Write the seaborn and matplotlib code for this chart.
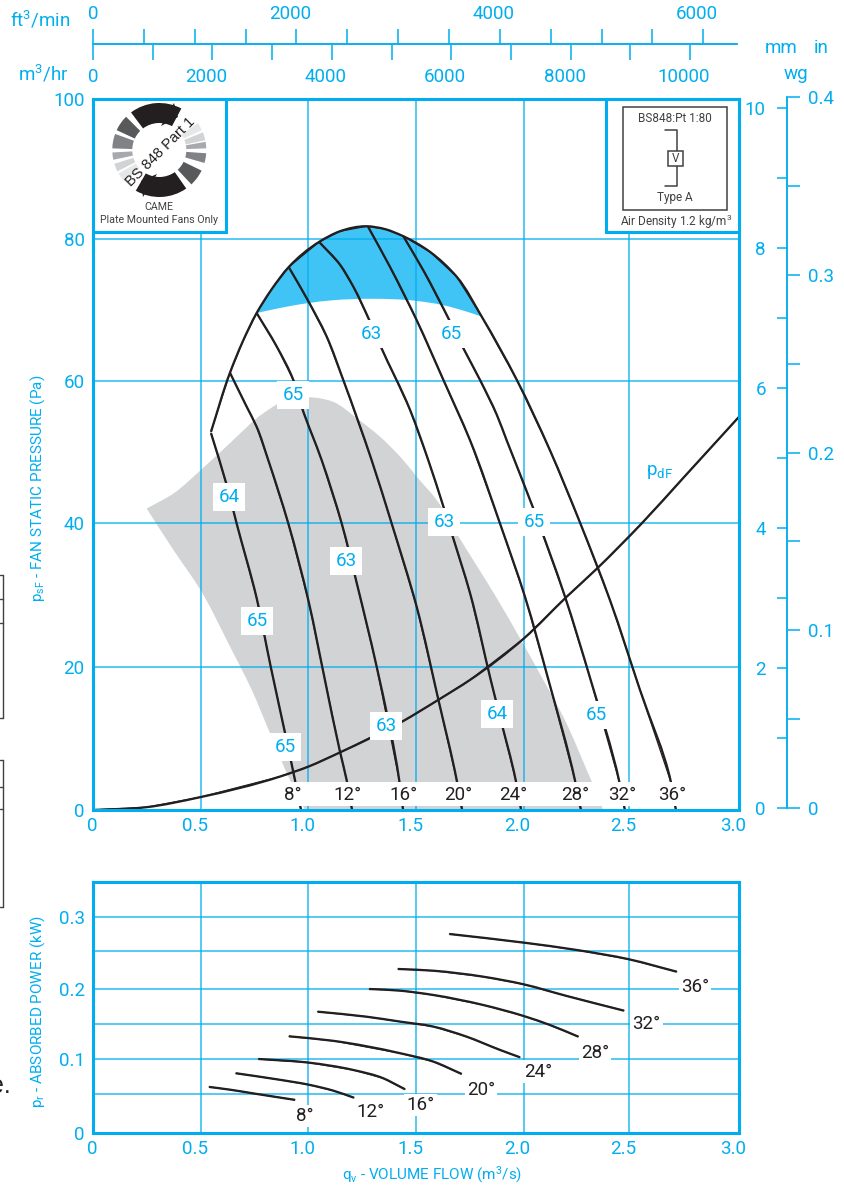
import numpy as np
import pandas as pd
import matplotlib
matplotlib.use('Agg')
import matplotlib.pyplot as plt
import seaborn as sns
from matplotlib import font_manager
from matplotlib.patches import Wedge, Polygon, Rectangle, PathPatch
from matplotlib.path import Path
from matplotlib.transforms import ScaledTranslation

# fan pressure chart, volume flow in m3/s
stall_x = [0.548, 0.636, 0.697, 0.760, 0.831, 0.910, 1.050, 1.147, 1.271, 1.356, 1.441, 1.565, 1.689, 1.805]
stall_y = [53.2, 61.5, 66.0, 69.9, 73.3, 76.4, 79.9, 81.4, 82.1, 81.7, 80.7, 78.5, 75.0, 69.4]

blue_low_x = [0.760, 0.884, 1.000, 1.116, 1.286, 1.503, 1.627, 1.735, 1.805]
blue_low_y = [69.9, 70.7, 71.3, 71.7, 71.9, 71.6, 71.0, 70.1, 69.4]

gray_top_x = [0.249, 0.373, 0.500, 0.636, 0.791, 0.900, 1.031, 1.116, 1.225, 1.333, 1.441, 1.503, 1.596, 1.689, 1.875,
              2.091, 2.184, 2.316]
gray_top_y = [42.4, 44.5, 47.8, 51.6, 55.8, 57.7, 58.0, 57.4, 55.1, 52.5, 49.2, 46.9, 43.6, 38.9, 29.8,
              18.3, 13.1, 4.0]
gray_low_x = [0.985, 0.915, 0.822, 0.737, 0.636, 0.500, 0.373, 0.249]
gray_low_y = [0.0, 4.2, 10.8, 16.9, 23.0, 30.9, 36.6, 42.4]
gray_end_x = [2.370]
gray_end_y = [0.0]

blade_8_x = [0.548, 0.621, 0.667, 0.760, 0.825, 0.892, 0.938, 0.966]
blade_8_y = [53.0, 45.7, 40.3, 29.8, 20.2, 10.8, 4.2, 0.0]
blade_12_x = [0.636, 0.714, 0.760, 0.814, 0.907, 1.000, 1.077, 1.147, 1.178, 1.203]
blade_12_y = [61.5, 56.7, 53.9, 49.2, 40.3, 29.5, 18.3, 8.2, 4.2, 0.0]
blade_16_x = [0.760, 0.853, 0.930, 0.969, 1.062, 1.155, 1.225, 1.317, 1.422, 1.440]
blade_16_y = [69.9, 65.2, 60.5, 56.7, 49.2, 40.3, 31.9, 20.2, 4.2, 0.0]
blade_20_x = [0.910, 0.992, 1.085, 1.162, 1.294, 1.387, 1.503, 1.604, 1.689, 1.714]
blade_20_y = [76.3, 72.0, 66.6, 60.5, 49.2, 40.3, 28.6, 15.5, 4.2, 0.0]
blade_24_x = [1.050, 1.147, 1.209, 1.286, 1.333, 1.472, 1.557, 1.627, 1.666, 1.751, 1.847, 1.890, 1.963, 1.988]
blade_24_y = [79.9, 76.7, 73.6, 68.7, 65.4, 56.3, 49.2, 42.7, 38.9, 30.5, 18.3, 13.1, 4.2, 0.0]
blade_28_x = [1.278, 1.379, 1.503, 1.627, 1.751, 1.890, 2.006, 2.115, 2.238, 2.266]
blade_28_y = [82.0, 76.4, 68.9, 60.5, 52.0, 40.3, 30.0, 18.3, 4.2, 0.0]
blade_32_x = [1.441, 1.534, 1.658, 1.712, 1.797, 1.875, 1.921, 2.045, 2.192, 2.311, 2.444, 2.470]
blade_32_y = [80.7, 75.9, 68.7, 65.4, 60.5, 55.6, 52.0, 42.4, 30.0, 18.3, 4.0, 0.0]
blade_36_x = [1.805, 1.968, 2.122, 2.262, 2.401, 2.540, 2.684, 2.707]
blade_36_y = [69.4, 60.5, 50.6, 40.4, 29.5, 16.9, 3.9, 0.0]

pdf_x = [0.0, 0.25, 0.497, 0.868, 1.000, 1.147, 1.434, 1.604, 1.751, 2.000, 2.200, 2.342, 2.548, 2.741, 3.000]
pdf_y = [0.0, 0.4, 1.8, 4.7, 6.1, 8.1, 12.4, 15.5, 18.3, 24.1, 30.0, 34.0, 40.3, 46.7, 55.3]

eff_text = ['64', '65', '65', '63', '63', '65', '63', '65', '63', '65', '64', '65']
eff_x = [0.632, 0.762, 0.892, 1.175, 1.361, 0.929, 1.291, 1.663, 1.630, 2.048, 1.876, 2.336]
eff_y = [44.0, 26.6, 8.9, 35.0, 11.8, 58.4, 66.9, 66.9, 40.5, 40.5, 13.5, 13.4]

angle_text = ['8°', '12°', '16°', '20°', '24°', '28°', '32°', '36°']
angle_top_x = [0.929, 1.184, 1.440, 1.695, 1.951, 2.238, 2.457, 2.689]
angle_top_y = [2.1] * 8

# absorbed power chart
pow_8_x = [0.539, 0.640, 0.744, 0.938]
pow_8_y = [0.064, 0.060, 0.055, 0.046]
pow_12_x = [0.663, 0.853, 1.008, 1.116, 1.212]
pow_12_y = [0.083, 0.0746, 0.0667, 0.0588, 0.049]
pow_16_x = [0.768, 1.000, 1.209, 1.348, 1.426, 1.449]
pow_16_y = [0.1028, 0.0978, 0.0875, 0.076, 0.0643, 0.0607]
pow_20_x = [0.910, 1.116, 1.426, 1.580, 1.712]
pow_20_y = [0.1343, 0.128, 0.1108, 0.0992, 0.082]
pow_24_x = [1.043, 1.271, 1.426, 1.580, 1.735, 1.890, 1.983]
pow_24_y = [0.1685, 0.1615, 0.1547, 0.1478, 0.1338, 0.1154, 0.1051]
pow_28_x = [1.283, 1.426, 1.580, 1.812, 2.000, 2.122, 2.254]
pow_28_y = [0.200, 0.1977, 0.1917, 0.1778, 0.1625, 0.150, 0.1338]
pow_32_x = [1.416, 1.580, 1.812, 2.000, 2.200, 2.466]
pow_32_y = [0.2278, 0.2254, 0.2171, 0.2065, 0.1903, 0.1699]
pow_36_x = [1.655, 2.003, 2.246, 2.490, 2.711]
pow_36_y = [0.2764, 0.2643, 0.2542, 0.2412, 0.224]

angle_low_x = [0.984, 1.291, 1.522, 1.802, 2.067, 2.331, 2.571, 2.796]
angle_low_y = [0.0236, 0.0292, 0.0389, 0.0597, 0.0851, 0.1106, 0.152, 0.2032]

# ticks
flow_grid = [0, 0.5, 1.0, 1.5, 2.0, 2.49, 3.0]
flow_labels = ['0', '0.5', '1.0', '1.5', '2.0', '2.5', '3.0']
press_grid = [0, 20.1, 40.4, 60.3, 80.3, 100]
press_labels = ['0', '20', '40', '60', '80', '100']
power_grid = [0, 0.054, 0.103, 0.151, 0.2, 0.253, 0.3]
power_labels = ['0', '', '0.1', '', '0.2', '', '0.3']
ft_ticks = [0, 500, 1000, 1500, 2000, 2500, 3000, 3500, 4000, 4500, 5000, 5500, 6000]
ft_labels = ['0', '', '', '', '2000', '', '', '', '4000', '', '', '', '6000']
hr_ticks = [0, 1000, 2000, 3000, 4000, 5000, 6000, 7000, 8000, 9000, 10000]
hr_labels = ['0', '', '2000', '', '4000', '', '6000', '', '8000', '', '10000']
mm_ticks = [0, 2, 4, 6, 8, 10]
mm_minor = [1, 3, 5, 7, 9]
in_ticks = [0, 0.05, 0.1, 0.15, 0.2, 0.25, 0.3, 0.35, 0.4]
in_labels = ['0', '', '0.1', '', '0.2', '', '0.3', '', '0.4']

CYAN = '#00AEEF'
BLUE = '#40C4F5'
GRAY = '#D1D3D4'
BLACK = '#231F20'
DARK = '#414042'
W, H = 844, 1188
DPI = 100

sns.set_theme(style='white')
available = {f.name for f in font_manager.fontManager.ttflist}
NARROW = 'Liberation Sans Narrow' if 'Liberation Sans Narrow' in available else 'Roboto'
plt.rcParams['font.family'] = ['Roboto', 'DejaVu Sans']
plt.rcParams['mathtext.default'] = 'regular'
TICK_SIZE = 13.5


def rect(left, top, right, bottom):
    return [left / W, 1 - bottom / H, (right - left) / W, (bottom - top) / H]


def shift(labels, dx, dy=0):
    off = ScaledTranslation(dx / DPI, dy / DPI, fig.dpi_scale_trans)
    for lab in labels:
        lab.set_transform(lab.get_transform() + off)


def bezier(ax, xs, ys):
    # smooth curve through the read points, tangents from screen distances
    pts = np.column_stack([xs, ys]).astype(float)
    scr = ax.transData.transform(pts)
    h = np.maximum(np.hypot(*np.diff(scr, axis=0).T), 1e-6)
    d = np.diff(pts, axis=0) / h[:, None]
    m = np.zeros_like(pts)
    m[0], m[-1] = d[0], d[-1]
    for i in range(1, len(pts) - 1):
        m[i] = (d[i - 1] * h[i] + d[i] * h[i - 1]) / (h[i - 1] + h[i])
    verts = []
    for i in range(len(h)):
        verts += [pts[i] + m[i] * h[i] / 3, pts[i + 1] - m[i + 1] * h[i] / 3, pts[i + 1]]
    return pts[0], verts


def curve(ax, xs, ys):
    sns.lineplot(x=xs, y=ys, ax=ax, color=BLACK, lw=0.9, sort=False, estimator=None, legend=False)
    start, verts = bezier(ax, xs, ys)
    path = Path([start] + verts, [Path.MOVETO] + [Path.CURVE4] * len(verts))
    ax.add_patch(PathPatch(path, fc='none', ec=BLACK, lw=1.65, capstyle='butt', zorder=2))


def smooth_fill(ax, parts, **kw):
    # parts are (xs, ys) pieces joined end to end, straight between pieces
    verts, codes = [], []
    for xs, ys in parts:
        if len(xs) == 1:
            verts.append((xs[0], ys[0]))
            codes.append(Path.LINETO)
            continue
        start, v = bezier(ax, xs, ys)
        verts.append(start)
        codes.append(Path.LINETO if codes else Path.MOVETO)
        verts += v
        codes += [Path.CURVE4] * len(v)
    verts.append(verts[0])
    codes.append(Path.CLOSEPOLY)
    ax.add_patch(PathPatch(Path(verts, codes), lw=0, **kw))


def style_panel(ax, ylim, yticks, ylabels):
    ax.set_xticks(flow_grid)
    ax.set_xticklabels(flow_labels)
    ax.set_yticks(yticks)
    ax.set_yticklabels(ylabels)
    ax.set_axisbelow('line')
    ax.grid(True, color=CYAN, lw=1.1, alpha=0.85)
    ax.tick_params(length=0, colors=CYAN, labelsize=TICK_SIZE, pad=6)
    ax.tick_params(axis='x', pad=5)
    ax.set_xlim(0, 3.0)
    ax.set_ylim(*ylim)
    ax.set_xlabel('')
    ax.set_ylabel('')
    for sp in ax.spines.values():
        sp.set_color(CYAN)
        sp.set_linewidth(2.2)
        sp.set_visible(True)
    shift(ax.get_xticklabels()[1:], -6)
    shift(ax.get_xticklabels()[:1], -1)


fig = plt.figure(figsize=(W / DPI, H / DPI), dpi=DPI, facecolor='white')

# main pressure panel
ax = fig.add_axes(rect(93, 99, 739, 810))
style_panel(ax, (0, 100), press_grid, press_labels)
smooth_fill(ax, [(gray_top_x, gray_top_y), (gray_end_x, gray_end_y), (gray_low_x, gray_low_y)], fc=GRAY, zorder=1)
top_idx = [i for i, v in enumerate(stall_x) if v >= 0.76]
smooth_fill(ax, [([stall_x[i] for i in top_idx], [stall_y[i] for i in top_idx]),
                 (blue_low_x[::-1], blue_low_y[::-1])], fc=BLUE, zorder=1.1)
for xs, ys in [(stall_x + blade_36_x[1:], stall_y + blade_36_y[1:]), (blade_8_x, blade_8_y),
               (blade_12_x, blade_12_y), (blade_16_x, blade_16_y), (blade_20_x, blade_20_y),
               (blade_24_x, blade_24_y), (blade_28_x, blade_28_y), (blade_32_x, blade_32_y),
               (pdf_x, pdf_y)]:
    curve(ax, xs, ys)
ax.set_xlim(0, 3.0)
ax.set_ylim(0, 100)
ax.add_patch(Rectangle((0.89, 0.55), 1.86, 3.4, fc='white', ec='none', zorder=3))
for t, x, y in zip(eff_text, eff_x, eff_y):
    ax.text(x, y, t, color=CYAN, fontsize=TICK_SIZE, ha='center', va='center', zorder=4,
            bbox=dict(boxstyle='square,pad=0.27', fc='white', ec='none'))
for t, x, y in zip(angle_text, angle_top_x, angle_top_y):
    ax.text(x, y, t, color=BLACK, fontsize=TICK_SIZE, ha='center', va='center', zorder=5)
ax.text(2.63, 47.5, 'p$_{dF}$', color=CYAN, fontsize=TICK_SIZE, ha='center', va='center')

# power panel
ax2 = fig.add_axes(rect(93, 882, 739, 1133))
style_panel(ax2, (0, 251 / 720), power_grid, power_labels)
for xs, ys in [(pow_8_x, pow_8_y), (pow_12_x, pow_12_y), (pow_16_x, pow_16_y), (pow_20_x, pow_20_y),
               (pow_24_x, pow_24_y), (pow_28_x, pow_28_y), (pow_32_x, pow_32_y), (pow_36_x, pow_36_y)]:
    curve(ax2, xs, ys)
ax2.set_xlim(0, 3.0)
ax2.set_ylim(0, 251 / 720)
for t, x, y in zip(angle_text, angle_low_x, angle_low_y):
    ax2.text(x, y, t, color=BLACK, fontsize=TICK_SIZE, ha='center', va='center', zorder=5,
             bbox=dict(boxstyle='square,pad=0.12', fc='white', ec='none'))

# flow scales above the chart
ax_ft = fig.add_axes(rect(93, 44, 737, 45))
ax_ft.patch.set_alpha(0)
ax_ft.set_yticks([])
ax_hr = ax_ft.twiny()
ax_hr.patch.set_alpha(0)
ax_ft.set_xlim(0, 6332)
ax_ft.xaxis.tick_top()
ax_ft.set_xticks(ft_ticks)
ax_ft.set_xticklabels(ft_labels)
ax_ft.tick_params(axis='x', length=10.8, width=1.1, color=CYAN, labelcolor=CYAN, labelsize=TICK_SIZE, pad=4, direction='out')
ax_hr.set_xlim(0, 10787)
ax_hr.xaxis.tick_bottom()
ax_hr.set_xticks(hr_ticks)
ax_hr.set_xticklabels(hr_labels)
ax_hr.tick_params(axis='x', length=10.8, width=1.1, color=CYAN, labelcolor=CYAN, labelsize=TICK_SIZE, pad=6, direction='out')
for a in (ax_ft, ax_hr):
    for name, sp in a.spines.items():
        sp.set_visible(name == 'top')
        sp.set_color(CYAN)
        sp.set_linewidth(1.1)
shift(ax_ft.get_xticklabels()[1:], -6)
shift(ax_hr.get_xticklabels()[1:], -6)

# pressure scales on the right
ax_mm = fig.add_axes(rect(787, 97, 788, 808))
ax_mm.patch.set_alpha(0)
ax_mm.set_xticks([])
ax_mm.set_ylim(0, 711 / 70)
ax_mm.set_yticks(mm_ticks)
ax_mm.set_yticklabels([str(v) for v in mm_ticks])
ax_mm.set_yticks(mm_minor, minor=True)
ax_mm.tick_params(axis='y', which='both', length=7.2, width=1.1, color=CYAN, left=True, direction='out', labelcolor=CYAN, labelsize=TICK_SIZE, pad=8)
ax_in = ax_mm.twinx()
ax_in.patch.set_alpha(0)
ax_in.set_ylim(0, 0.4)
ax_in.set_yticks(in_ticks)
ax_in.set_yticklabels(in_labels)
ax_in.tick_params(axis='y', length=8.6, width=1.1, color=CYAN, right=True, direction='out', labelcolor=CYAN, labelsize=TICK_SIZE, pad=6)
for a in (ax_mm, ax_in):
    for name, sp in a.spines.items():
        sp.set_visible(name == 'left')
        sp.set_color(CYAN)
        sp.set_linewidth(1.1)

# overlay in picture pixels for boxes, logo and loose text
ov = fig.add_axes([0, 0, 1, 1], zorder=10)
ov.set_xlim(0, W)
ov.set_ylim(H, 0)
ov.axis('off')
ov.patch.set_alpha(0)


def note(x, y, s, size=9, color=CYAN, family=None, **kw):
    ov.text(x, y, s, fontsize=size, color=color, family=family or ['Roboto', 'DejaVu Sans'],
            ha=kw.pop('ha', 'center'), va=kw.pop('va', 'center'), **kw)


note(40, 20, 'ft$^{3}$/min', TICK_SIZE)
note(43, 74, 'm$^{3}$/hr', TICK_SIZE)
note(781, 48, 'mm', TICK_SIZE)
note(821, 48, 'in', TICK_SIZE)
note(796, 74, 'wg', TICK_SIZE)
note(38, 488, 'p$_{sF}$ - FAN STATIC PRESSURE (Pa)', 11, family=NARROW, rotation=90)
note(38, 1011, 'p$_{r}$ - ABSORBED POWER (kW)', 11, family=NARROW, rotation=90)
note(432, 1175, 'q$_{v}$ - VOLUME FLOW (m$^{3}$/s)', 11, family=NARROW)

# bits of the neighbouring page table and text
for top, rows, bottom in [(575, [599, 623], 718), (760, [787, 809], 907)]:
    ov.plot([3, 3], [top, bottom], color=DARK, lw=1)
    for yy in [top] + rows + [bottom]:
        ov.plot([0, 3], [yy, yy], color=DARK, lw=1)
note(11, 1093, 'e.', 18, color=BLACK, family='Liberation Sans', ha='right', va='baseline')

# inset boxes
for x0, x1 in [(93, 226), (606, 739)]:
    ov.add_patch(Rectangle((x0, 99), x1 - x0, 133, fc='white', ec=CYAN, lw=2.2))

# fan test logo (drawn y-down, so angles run clockwise on screen)
cx, cy = 159.3, 150
segments = [(127, 62, BLACK), (155, 135, '#58595B'), (178, 160, '#808285'), (192, 183, '#A7A9AC'),
            (207, 197, '#D1D3D4'), (222, 210, '#E6E7E8'), (305, 240, BLACK), (334, 313, '#58595B'),
            (356, 344, '#808285'), (370, 362, '#A7A9AC'), (382, 372, '#D1D3D4'), (395, 385, '#E6E7E8')]
for a0, a1, col in segments:
    lo, hi = sorted((-a0, -a1))
    ov.add_patch(Wedge((cx, cy), 47, lo, hi, width=20, fc=col, ec='none', zorder=3))
ov.add_patch(Polygon([(174, 103), (178, 117), (161, 126)], fc=BLACK, ec='none', zorder=3))
ov.add_patch(Polygon([(143, 197), (141, 181), (157, 174)], fc=BLACK, ec='none', zorder=3))
note(160, 152, 'BS 848 Part 1', 10.5, color=BLACK, family='Liberation Sans', rotation=45, zorder=4)
note(159, 207, 'CAME', 7.7, color=DARK, family=NARROW)
note(159, 220, 'Plate Mounted Fans Only', 7.7, color=DARK, family=NARROW)

ov.add_patch(Rectangle((623, 107), 104, 103, fc='white', ec=DARK, lw=1.1, zorder=3))
ov.plot([665, 676.6, 676.6], [130, 130, 151], color=DARK, lw=1.1, zorder=4)
ov.plot([676.6, 676.6, 665], [166, 186, 186], color=DARK, lw=1.1, zorder=4)
ov.add_patch(Rectangle((667.5, 151), 15.5, 15, fc='white', ec=DARK, lw=1.1, zorder=4))
note(675.5, 158.5, 'V', 8.5, color=DARK, family=NARROW, zorder=5)
note(675, 118, 'BS848:Pt 1:80', 8.5, color=DARK, family=NARROW, zorder=5)
note(675, 197, 'Type A', 8.5, color=DARK, family=NARROW, zorder=5)
note(676, 222, 'Air Density 1.2 kg/m$^{3}$', 8.5, color=DARK, family=NARROW, zorder=5)

fig.savefig('out.png', dpi=DPI)
